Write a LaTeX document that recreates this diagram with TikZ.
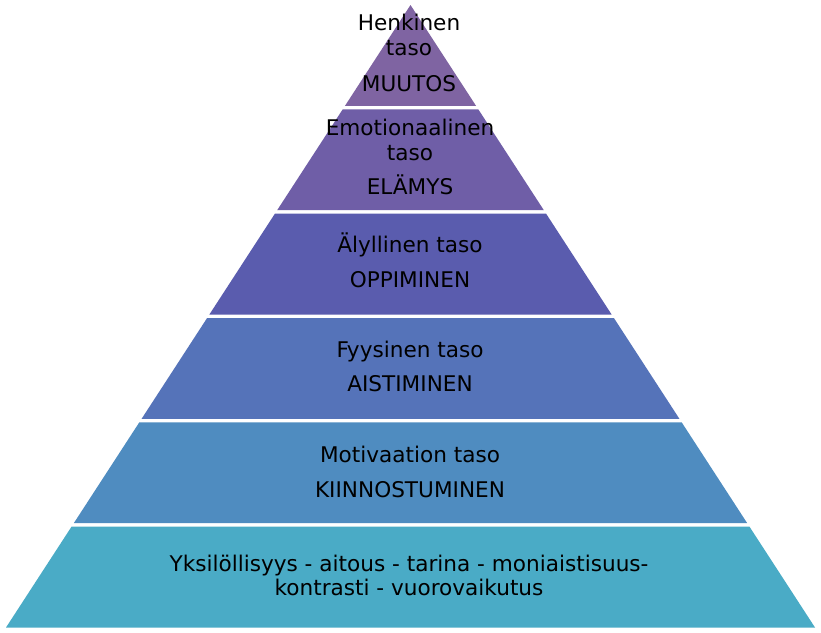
\documentclass[tikz,border=0pt]{standalone}
\usepackage{fontspec}
\setmainfont{DejaVu Sans}
\definecolor{cA}{HTML}{7F64A2}
\definecolor{cB}{HTML}{6F5EA7}
\definecolor{cC}{HTML}{5A5CAE}
\definecolor{cD}{HTML}{5573B9}
\definecolor{cE}{HTML}{4F8CC0}
\definecolor{cF}{HTML}{4AABC6}
\tikzset{
  lbl/.style={anchor=base, inner sep=0pt, font=\fontsize{21.6}{24}\selectfont, text=black},
}
\begin{document}
\begin{tikzpicture}[x=1pt,y=-1pt]
\useasboundingbox[fill=white] (0,0) rectangle (821,632);
% bands
\fill[cA] (410.5,5) -- (476.02,105.83) -- (344.98,105.83) -- cycle;
\fill[cB] (342.70,109.33) -- (478.30,109.33) -- (543.82,210.17) -- (277.18,210.17) -- cycle;
\fill[cC] (274.91,213.67) -- (546.09,213.67) -- (611.61,314.5) -- (209.39,314.5) -- cycle;
\fill[cD] (207.11,318) -- (613.89,318) -- (679.41,418.83) -- (141.59,418.83) -- cycle;
\fill[cE] (139.32,422.33) -- (681.68,422.33) -- (747.2,523.17) -- (73.8,523.17) -- cycle;
\fill[cF] (71.52,526.67) -- (749.48,526.67) -- (815,627.5) -- (6,627.5) -- cycle;
% texts
\node[lbl] (t1a) at (409,30) {Henkinen};
\node[lbl] (t1b) at (409,55) {taso};
\node[lbl] (t1c) at (409,91) {MUUTOS};
\node[lbl] (t2a) at (410,135) {Emotionaalinen};
\node[lbl] (t2b) at (410,160) {taso};
\node[lbl] (t2c) at (410,194) {ELÄMYS};
\node[lbl] (t3a) at (410,252) {Älyllinen taso};
\node[lbl] (t3b) at (410,287) {OPPIMINEN};
\node[lbl] (t4a) at (410,357) {Fyysinen taso};
\node[lbl] (t4b) at (410,391) {AISTIMINEN};
\node[lbl] (t5a) at (410,462) {Motivaation taso};
\node[lbl] (t5b) at (410,497) {KIINNOSTUMINEN};
\node[lbl] (t6a) at (409,571.5) {Yksilöllisyys - aitous - tarina - moniaistisuus-};
\node[lbl] (t6b) at (409,595) {kontrasti - vuorovaikutus};
\end{tikzpicture}
\end{document}
